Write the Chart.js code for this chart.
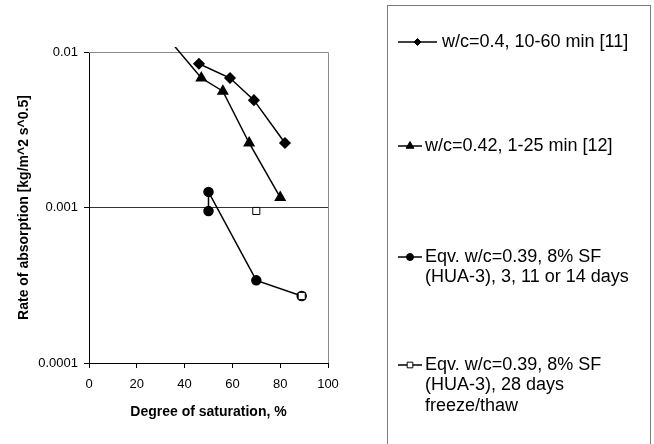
<!DOCTYPE html>
<html>
<head>
<meta charset="utf-8">
<script src="https://cdn.jsdelivr.net/npm/chart.js@4/dist/chart.umd.min.js"></script>
<style>
  html, body { margin: 0; padding: 0; background: #fff; }
  #wrap { width: 654px; height: 444px; }
</style>
</head>
<body>
<div id="wrap"><canvas id="absChart" width="654" height="444"></canvas></div>
<script>
  const seriesNames = [
    'w/c=0.4, 10-60 min [11]',
    'w/c=0.42, 1-25 min [12]',
    'Eqv. w/c=0.39, 8% SF\n(HUA-3), 3, 11 or 14 days',
    'Eqv. w/c=0.39, 8% SF\n(HUA-3), 28 days\nfreeze/thaw'
  ];

  // degree of saturation (%) / rate of absorption (kg/m^2 s^0.5)
  const sat1 = [46, 59, 69, 82];
  const rate1 = [0.0084, 0.0068, 0.0049, 0.0026];
  const sat2 = [30, 47, 56, 67, 80];
  const rate2 = [0.0139, 0.0068, 0.0056, 0.0026, 0.00116];
  const sat3 = [50, 50, 70, 89];
  const rate3 = [0.00095, 0.00126, 0.00034, 0.00027];
  const sat4 = [70, 89];
  const rate4 = [0.00095, 0.00027];

  const xTicks = [0, 20, 40, 60, 80, 100];
  const yTicks = [0.0001, 0.001, 0.01];

  const pts = (xs, ys) => xs.map((x, i) => ({ x: x, y: ys[i] }));
  const FONT = 'Liberation Sans, Arial, sans-serif';

  // ======== frame (top/right) + legend box ========
  const frame = {
    id: 'frame',
    beforeDatasetsDraw(chart) {
      const { ctx, chartArea: a } = chart;
      ctx.save();
      ctx.strokeStyle = '#8a8a8a';
      ctx.lineWidth = 1;
      ctx.beginPath();
      ctx.moveTo(a.left, a.top + 0.5);
      ctx.lineTo(a.right + 0.5, a.top + 0.5);
      ctx.lineTo(a.right + 0.5, a.bottom);
      ctx.stroke();
      ctx.restore();
    }
  };

  const legendBox = {
    id: 'legendBox',
    afterDraw(chart) {
      const ctx = chart.ctx;
      ctx.save();
      ctx.strokeStyle = '#7a7a7a';
      ctx.lineWidth = 1;
      ctx.strokeRect(387.5, 5.5, 263, 460);

      const rows = [
        { y: 42, x0: 398, x1: 437, tx: 442 },
        { y: 146, x0: 398, x1: 422, tx: 425 },
        { y: 257, x0: 398, x1: 422, tx: 425 },
        { y: 365, x0: 398, x1: 422, tx: 425 }
      ];
      const sizes = [3.5, 4.5, 3.5, 4];

      chart.data.datasets.forEach((ds, i) => {
        const r = rows[i];
        ctx.strokeStyle = '#000';
        ctx.lineWidth = 1.5;
        ctx.beginPath();
        ctx.moveTo(r.x0, r.y);
        ctx.lineTo(r.x1, r.y);
        ctx.stroke();
        ctx.fillStyle = ds.pointBackgroundColor;
        ctx.strokeStyle = '#000';
        ctx.lineWidth = 1;
        Chart.helpers.drawPoint(ctx, {
          pointStyle: ds.pointStyle, rotation: 0, radius: sizes[i], borderWidth: 1
        }, (r.x0 + r.x1) / 2, r.y);

        ctx.fillStyle = '#000';
        ctx.font = '18px ' + FONT;
        ctx.textBaseline = 'middle';
        ctx.textAlign = 'left';
        seriesNames[i].split('\n').forEach((line, k) => {
          ctx.fillText(line, r.tx, r.y + k * 20.5);
        });
      });
      ctx.restore();
    }
  };

  new Chart(document.getElementById('absChart'), {
    type: 'line',
    data: {
      datasets: [{
        label: seriesNames[0],
        data: pts(sat1, rate1),
        borderColor: '#000',
        borderWidth: 1.5,
        pointStyle: 'rectRot',
        pointRadius: 5,
        pointBackgroundColor: '#000',
        pointBorderColor: '#000'
      }, {
        label: seriesNames[1],
        data: pts(sat2, rate2),
        borderColor: '#000',
        borderWidth: 1.5,
        pointStyle: 'triangle',
        pointRadius: 5.5,
        pointBackgroundColor: '#000',
        pointBorderColor: '#000',
        clip: { left: 0, top: 5, right: 0, bottom: 0 }
      }, {
        label: seriesNames[2],
        data: pts(sat3, rate3),
        borderColor: '#000',
        borderWidth: 1.5,
        pointStyle: 'circle',
        pointRadius: 4.5,
        pointBackgroundColor: '#000',
        pointBorderColor: '#000'
      }, {
        label: seriesNames[3],
        data: pts(sat4, rate4),
        showLine: false,
        borderColor: '#000',
        pointStyle: 'rect',
        pointRadius: 5,
        pointBorderWidth: 1,
        pointBackgroundColor: '#fff',
        pointBorderColor: '#000',
        order: -1
      }]
    },
    options: {
      responsive: false,
      animation: false,
      events: [],
      layout: { padding: { top: 52, right: 326, left: 0, bottom: 0 } },
      plugins: { legend: { display: false }, tooltip: { enabled: false } },
      scales: {
        x: {
          type: 'linear',
          min: 0, max: 100,
          afterBuildTicks: s => { s.ticks = xTicks.map(v => ({ value: v })); },
          afterFit: s => { s.height = 81; },
          grid: { drawOnChartArea: false, drawTicks: true, tickLength: 5, tickColor: '#000' },
          border: { color: '#000', width: 1 },
          ticks: { color: '#000', font: { size: 13, family: FONT }, padding: 9, maxRotation: 0 },
          title: {
            display: true, text: 'Degree of saturation, %', color: '#000',
            font: { size: 14, weight: 'bold', family: FONT }, padding: { top: 0, bottom: 23 }
          }
        },
        y: {
          type: 'logarithmic',
          min: 0.0001, max: 0.01,
          afterBuildTicks: s => { s.ticks = yTicks.map(v => ({ value: v })); },
          afterFit: s => { s.width = 89; },
          grid: {
            drawTicks: true, tickLength: 5, tickColor: '#000',
            color: c => (c.tick && c.tick.value === 0.001 ? '#333' : 'rgba(0,0,0,0)')
          },
          border: { color: '#000', width: 1 },
          ticks: {
            color: '#000', font: { size: 13, family: FONT }, padding: 6,
            callback: v => String(v)
          },
          title: {
            display: true, text: 'Rate of absorption [kg/m^2 s^0.5]', color: '#000',
            font: { size: 14, weight: 'bold', family: FONT }, padding: { top: 16, bottom: 0 }
          }
        }
      }
    },
    plugins: [frame, legendBox]
  });
</script>
</body>
</html>
